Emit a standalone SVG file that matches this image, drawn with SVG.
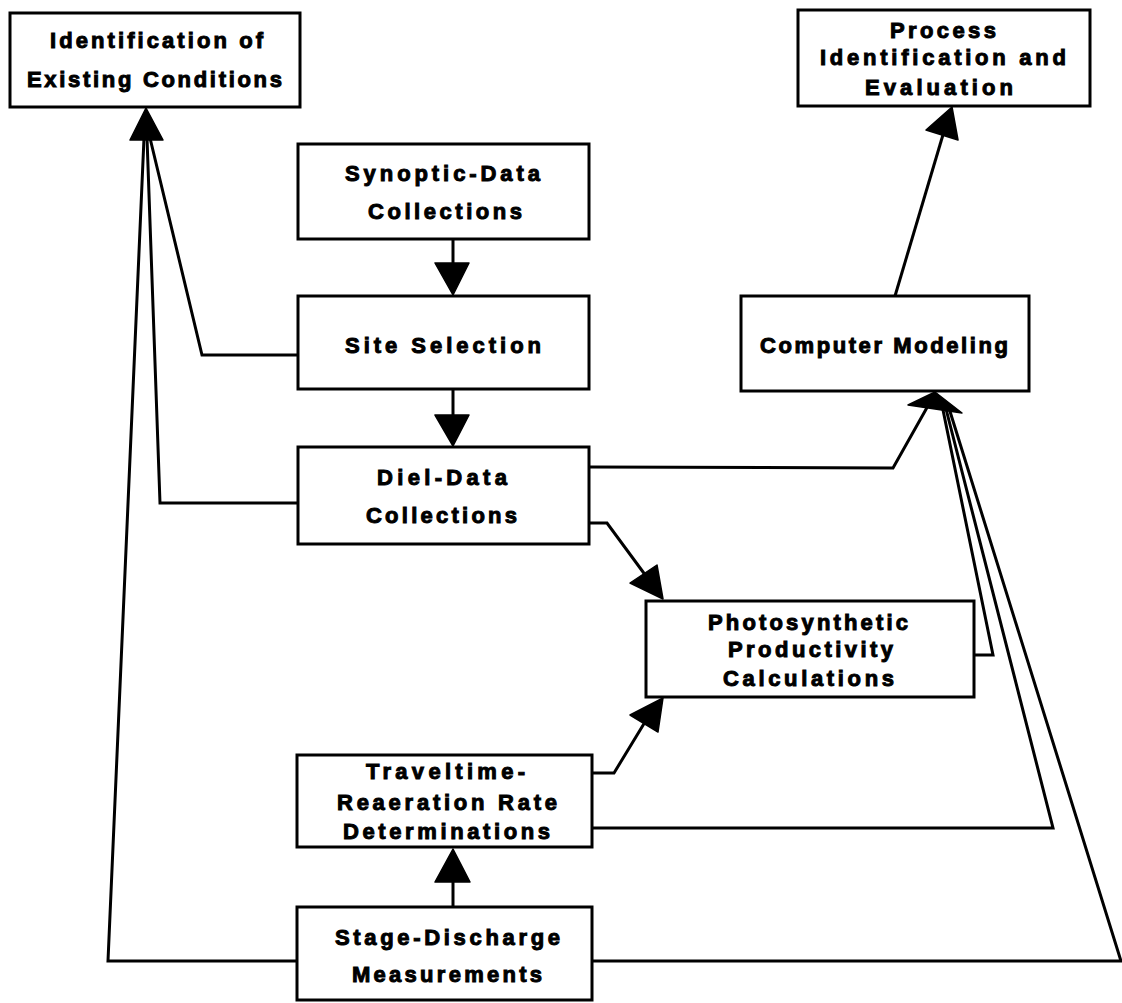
<svg xmlns="http://www.w3.org/2000/svg" width="1122" height="1003" viewBox="0 0 1122 1003">
<style>
.box{fill:#fff;stroke:#000;stroke-width:3}
.t{font-family:"Liberation Sans",Arial,Helvetica,sans-serif;font-weight:bold;font-size:22px;fill:#000;stroke:#000;stroke-width:1}
.c{fill:none;stroke:#000;stroke-width:3;stroke-linejoin:miter}
.ah{fill:#000;stroke:#000;stroke-width:1.5;stroke-linejoin:round}
</style>
<rect width="1122" height="1003" fill="#fff"/>
<g id="connectors">
<polyline class="c" points="298,355 202,355 150,138"/>
<polyline class="c" points="298,503 160,503 147,138"/>
<polyline class="c" points="297,961 108,961 144,138"/>
<polyline class="c" points="453,239 453,265"/>
<polyline class="c" points="453,389 453,417"/>
<polyline class="c" points="453,907 453,880"/>
<polyline class="c" points="589,523 607,523 646,576"/>
<polyline class="c" points="592,773 614,773 645,722"/>
<polyline class="c" points="589,467 893,468 929,404"/>
<polyline class="c" points="974,655 993,655 942,405"/>
<polyline class="c" points="592,828 1053,828 945,405"/>
<polyline class="c" points="592,961 1121,961 948,405"/>
<polyline class="c" points="895,296 945,128"/>
<polygon class="ah" points="146,108 130,140 163,140"/>
<polygon class="ah" points="453,295 435,263 469,263"/>
<polygon class="ah" points="453,446 435,415 469,415"/>
<polygon class="ah" points="663,599 630,583 657,565"/>
<polygon class="ah" points="663,698 630,715 658,732"/>
<polygon class="ah" points="453,849 435,882 470,882"/>
<polygon class="ah" points="935,392 908,405 962,413"/>
<polygon class="ah" points="952,107 926,130 958,140"/>
</g>
<g id="n-identification">
<rect class="box" x="10" y="13" width="290" height="94"/>
<text class="t" x="50" y="48" textLength="213" lengthAdjust="spacing">Identification of</text>
<text class="t" x="27" y="87" textLength="255" lengthAdjust="spacing">Existing Conditions</text>
</g>
<g id="n-process">
<rect class="box" x="798" y="10" width="292" height="96"/>
<text class="t" x="890" y="38" textLength="106" lengthAdjust="spacing">Process</text>
<text class="t" x="820" y="65" textLength="246" lengthAdjust="spacing">Identification and</text>
<text class="t" x="865" y="95" textLength="148" lengthAdjust="spacing">Evaluation</text>
</g>
<g id="n-synoptic">
<rect class="box" x="298" y="144" width="291" height="95"/>
<text class="t" x="345" y="181" textLength="195" lengthAdjust="spacing">Synoptic-Data</text>
<text class="t" x="368" y="219" textLength="154" lengthAdjust="spacing">Collections</text>
</g>
<g id="n-site">
<rect class="box" x="298" y="296" width="291" height="93"/>
<text class="t" x="345" y="353" textLength="196" lengthAdjust="spacing">Site Selection</text>
</g>
<g id="n-diel">
<rect class="box" x="298" y="447" width="291" height="97"/>
<text class="t" x="377" y="485" textLength="130" lengthAdjust="spacing">Diel-Data</text>
<text class="t" x="366" y="523" textLength="151" lengthAdjust="spacing">Collections</text>
</g>
<g id="n-computer">
<rect class="box" x="741" y="296" width="288" height="95"/>
<text class="t" x="760" y="353" textLength="248" lengthAdjust="spacing">Computer Modeling</text>
</g>
<g id="n-photo">
<rect class="box" x="646" y="601" width="328" height="96"/>
<text class="t" x="708" y="630" textLength="200" lengthAdjust="spacing">Photosynthetic</text>
<text class="t" x="728" y="657" textLength="165" lengthAdjust="spacing">Productivity</text>
<text class="t" x="723" y="686" textLength="171" lengthAdjust="spacing">Calculations</text>
</g>
<g id="n-traveltime">
<rect class="box" x="297" y="755" width="295" height="92"/>
<text class="t" x="366" y="779" textLength="159" lengthAdjust="spacing">Traveltime-</text>
<text class="t" x="337" y="810" textLength="220" lengthAdjust="spacing">Reaeration Rate</text>
<text class="t" x="343" y="839" textLength="207" lengthAdjust="spacing">Determinations</text>
</g>
<g id="n-stage">
<rect class="box" x="297" y="907" width="295" height="93"/>
<text class="t" x="335" y="945" textLength="225" lengthAdjust="spacing">Stage-Discharge</text>
<text class="t" x="352" y="982" textLength="190" lengthAdjust="spacing">Measurements</text>
</g>
</svg>
